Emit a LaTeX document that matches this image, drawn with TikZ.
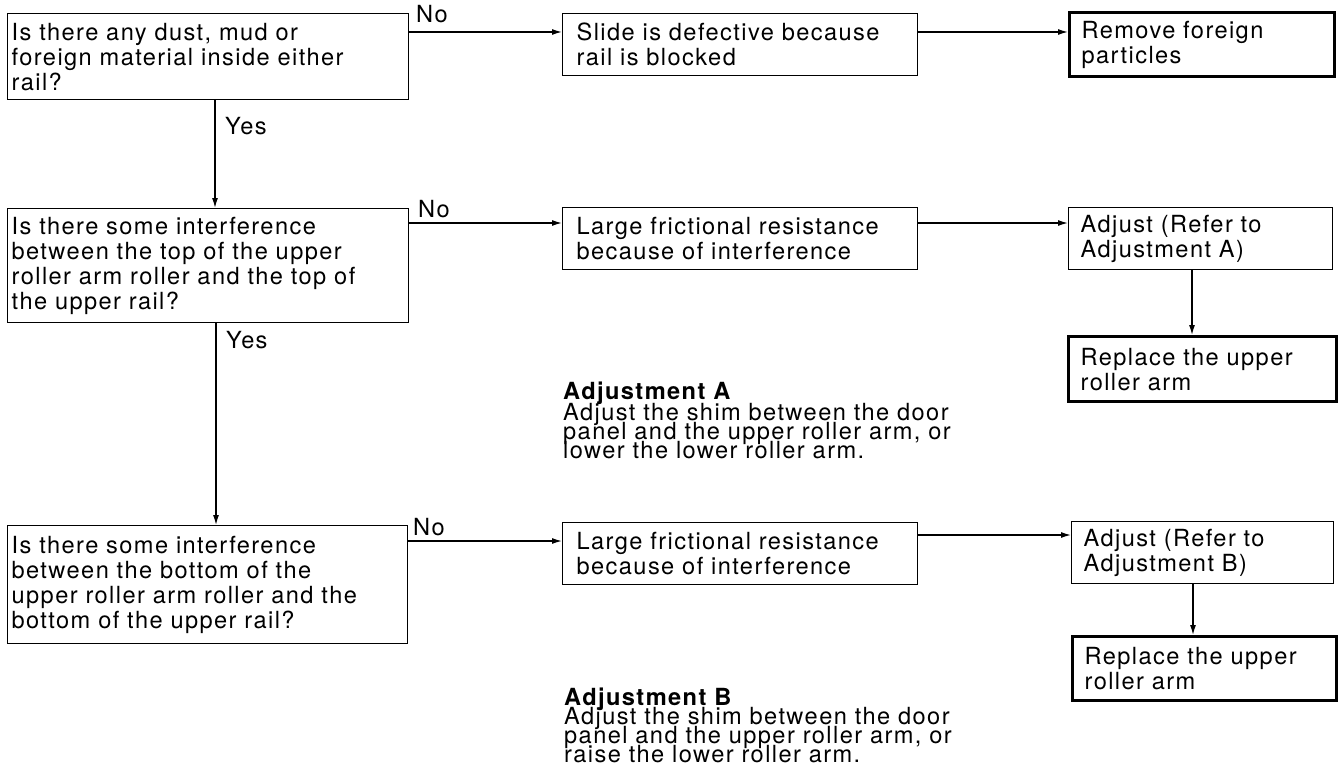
\documentclass[tikz,border=0pt]{standalone}
\usepackage{fontspec}
\setmainfont{TeX Gyre Heros}[LetterSpace=6]
\usetikzlibrary{arrows.meta}
\newcommand{\boxfont}{\fontsize{23.6}{25}\selectfont}
\newcommand{\tightfont}{\fontsize{23.6}{19.3}\selectfont\setlength{\lineskiplimit}{-100pt}}
\begin{document}
\begin{tikzpicture}[x=1pt,y=-1pt,
  every node/.style={font=\boxfont},
  box/.style={draw, line width=1.3pt, anchor=north west, align=left,
    inner ysep=0pt, inner xsep=#1},
  box/.default=4pt,
  thickbox/.style={box=12pt, line width=3.2pt},
  lbl/.style={anchor=base west, inner sep=0pt},
  head/.style={anchor=base west, inner sep=0pt, font=\boxfont\bfseries},
  para/.style={anchor=base west, inner sep=0pt, text width=430pt, align=left,
    font=\tightfont},
  arr/.style={line width=1.3pt, -{Latex[length=10pt,width=6pt]}}]
\useasboundingbox (0,0) rectangle (1339,781);

% row 1
\node[box, minimum width=401pt, minimum height=86pt, text width=393pt] (q1) at (7,13)
  {Is there any dust, mud or\\foreign material inside either\\rail?};
\node[box=14pt, minimum width=355pt, minimum height=62pt, text width=327pt] (s1) at (562,13)
  {Slide is defective because\\rail is blocked};
\node[thickbox, minimum width=265pt, minimum height=64pt, text width=241pt] (r1) at (1068,11)
  {Remove foreign\\particles};

% row 2
\node[box, minimum width=401pt, minimum height=114pt, text width=393pt] (q2) at (7,208)
  {Is there some interference\\between the top of the upper\\roller arm roller and the top of\\the upper rail?};
\node[box=14pt, minimum width=355pt, minimum height=62pt, text width=327pt] (s2) at (562,207)
  {Large frictional resistance\\because of interference};
\node[box=12pt, minimum width=264pt, minimum height=62pt, text width=240pt] (a2) at (1068,207)
  {Adjust (Refer to\\Adjustment A)};
\node[thickbox, minimum width=268pt, minimum height=65pt, text width=244pt] (r2) at (1067,335)
  {Replace the upper\\roller arm};

% row 3
\node[box, minimum width=400pt, minimum height=118pt, text width=392pt] (q3) at (7,525)
  {Is there some interference\\between the bottom of the\\upper roller arm roller and the\\bottom of the upper rail?};
\node[box=14pt, minimum width=355pt, minimum height=62pt, text width=327pt] (s3) at (562,522)
  {Large frictional resistance\\because of interference};
\node[box=12pt, minimum width=262pt, minimum height=62pt, text width=238pt] (a3) at (1071,521)
  {Adjust (Refer to\\Adjustment B)};
\node[thickbox, minimum width=264pt, minimum height=64pt, text width=240pt] (r3) at (1071,635)
  {Replace the upper\\roller arm};

% labels
\node[lbl] (no1) at (416,23) {No};
\node[lbl] (no2) at (418,217) {No};
\node[lbl] (no3) at (413,535) {No};
\node[lbl] (yes1) at (225,135) {Yes};
\node[lbl] (yes2) at (226,348) {Yes};

% adjustment notes
\node[head] (ha) at (563,399) {Adjustment A};
\node[para] (pa) at (563,420) {Adjust the shim between the door\\panel and the upper roller arm, or\\lower the lower roller arm.};
\node[head] (hb) at (564,705) {Adjustment B};
\node[para] (pb) at (564,724) {Adjust the shim between the door\\panel and the upper roller arm, or\\raise the lower roller arm.};

% connectors
\draw[arr] ([yshift=-19pt]q1.north east) -- ([yshift=-19pt]q1.north east -| s1.west);
\draw[arr] ([yshift=-19pt]s1.north east) -- ([yshift=-19pt]s1.north east -| r1.west);
\draw[arr] ([yshift=-15pt]q2.north east) -- ([yshift=-15pt]q2.north east -| s2.west);
\draw[arr] ([yshift=-16pt]s2.north east) -- ([yshift=-16pt]s2.north east -| a2.west);
\draw[arr] ([yshift=-16pt]q3.north east) -- ([yshift=-16pt]q3.north east -| s3.west);
\draw[arr] ([yshift=-13pt]s3.north east) -- ([yshift=-13pt]s3.north east -| a3.west);
\draw[arr] ([xshift=208pt]q1.south west) -- ([xshift=208pt]q1.south west |- q2.north);
\draw[arr] ([xshift=209pt]q2.south west) -- ([xshift=209pt]q2.south west |- q3.north);
\draw[arr] ([xshift=124pt]a2.south west) -- ([xshift=124pt]a2.south west |- r2.north);
\draw[arr] ([xshift=122pt]a3.south west) -- ([xshift=122pt]a3.south west |- r3.north);
\end{tikzpicture}
\end{document}
